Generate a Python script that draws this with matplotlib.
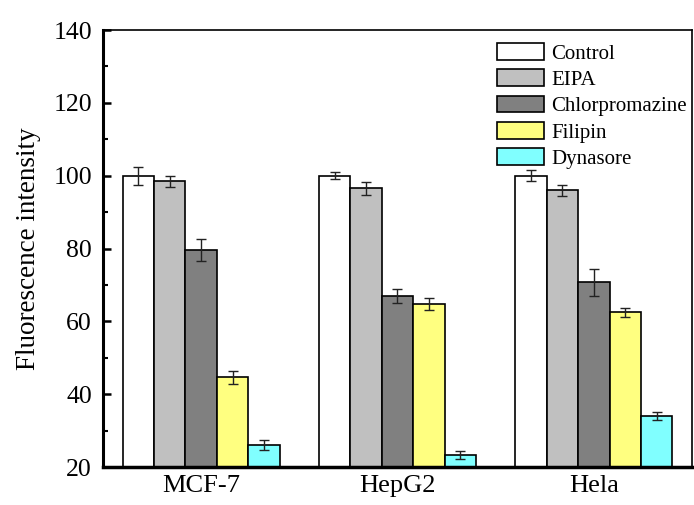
import matplotlib.pyplot as plt
import numpy as np
from matplotlib.ticker import MultipleLocator

plt.rcParams['font.family'] = ['Liberation Serif', 'DejaVu Serif']

cells = ['MCF-7', 'HepG2', 'Hela']
treatments = ['Control', 'EIPA', 'Chlorpromazine', 'Filipin', 'Dynasore']
colors = ['#FFFFFF', '#C0C0C0', '#808080', '#FFFF80', '#80FFFF']

# fluorescence per treatment, one value per cell line
control = [100.0, 100.0, 100.0]
eipa = [98.5, 96.5, 96.0]
chlorpromazine = [79.5, 67.0, 70.7]
filipin = [44.7, 64.7, 62.5]
dynasore = [26.0, 23.3, 34.0]

control_err = [2.5, 1.0, 1.5]
eipa_err = [1.5, 1.7, 1.5]
chlorpromazine_err = [3.0, 2.0, 3.6]
filipin_err = [1.8, 1.7, 1.3]
dynasore_err = [1.3, 1.0, 1.2]

values = [control, eipa, chlorpromazine, filipin, dynasore]
errors = [control_err, eipa_err, chlorpromazine_err, filipin_err, dynasore_err]

fig = plt.figure(figsize=(6.94, 5.05), dpi=100)
ax = fig.add_axes([0.1484, 0.0752, 0.8487, 0.8653])

x = np.arange(1, len(cells) + 1)
w = 0.16
for i, (name, vals, errs, c) in enumerate(zip(treatments, values, errors, colors)):
    pos = x + (i - 2) * w
    ax.bar(pos, vals, width=w, color=c, edgecolor='black', linewidth=1.2,
           label=name, zorder=2)
    ax.errorbar(pos, vals, yerr=errs, fmt='none', ecolor='#222222',
                elinewidth=1.0, capsize=3.3, capthick=1.0, zorder=3)

ax.set_xlim(0.5, 3.5)
ax.set_ylim(20, 140)
ax.set_xticks(x)
ax.set_xticklabels(cells, fontsize=19)
ax.yaxis.set_major_locator(MultipleLocator(20))
ax.yaxis.set_minor_locator(MultipleLocator(10))
ax.tick_params(axis='y', which='major', direction='in', length=6, width=1.8,
               labelsize=18.5, pad=8)
ax.tick_params(axis='y', which='minor', direction='in', length=3.5, width=1.5)
ax.tick_params(axis='x', direction='in', length=3, width=1, pad=6)
ax.set_ylabel('Fluorescence intensity', fontsize=19.5, labelpad=9)

ax.spines['left'].set_linewidth(2.2)
ax.spines['bottom'].set_linewidth(2.5)
ax.spines['top'].set_linewidth(1.2)
ax.spines['right'].set_linewidth(1.2)

ax.legend(loc='upper left', bbox_to_anchor=(497 / 694, 1 - 43 / 505),
          bbox_transform=fig.transFigure, frameon=False, fontsize=15,
          borderpad=0, borderaxespad=0, handlelength=2.25, handleheight=0.85,
          handletextpad=0.35, labelspacing=0.28)

fig.savefig('out.png', dpi=100)
